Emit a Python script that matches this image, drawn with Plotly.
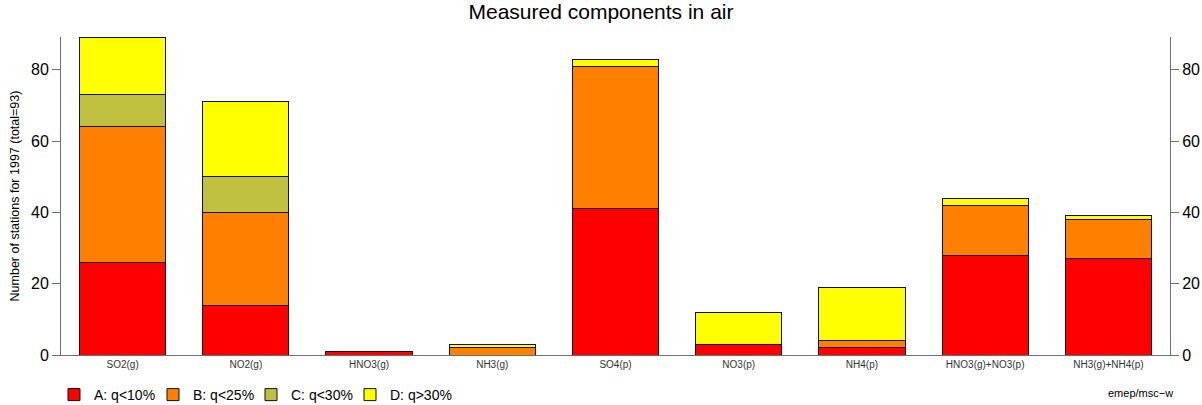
import plotly.graph_objects as go

# Station counts per component, split by quality class
components = ["SO2(g)", "NO2(g)", "HNO3(g)", "NH3(g)", "SO4(p)",
              "NO3(p)", "NH4(p)", "HNO3(g)+NO3(p)", "NH3(g)+NH4(p)"]
class_a = [26, 14, 1, 0, 41, 3, 2, 28, 27]
class_b = [38, 26, 0, 2, 40, 0, 2, 14, 11]
class_c = [9, 10, 0, 0, 0, 0, 0, 0, 0]
class_d = [16, 21, 0, 1, 2, 9, 15, 2, 1]

series = [
    ("A: q<10%", class_a, "#FF0000"),
    ("B: q<25%", class_b, "#FF8000"),
    ("C: q<30%", class_c, "#BFBF40"),
    ("D: q>30%", class_d, "#FFFF00"),
]

y_ticks = [0, 20, 40, 60, 80]
y_range = [0, 89.2]

FONT = "Liberation Sans, Arial, sans-serif"
AXIS_GREY = "#707070"
W, H = 1202, 405

# Left edge (px) of each legend entry along the bottom row
legend_left = [54, 153, 251, 350]

fig = go.Figure()
legend_layouts = {}
for i, (name, vals, color) in enumerate(series):
    key = "legend" if i == 0 else f"legend{i + 1}"
    fig.add_trace(go.Bar(
        x=components, y=vals, name=name, width=0.7, legend=key,
        marker=dict(color=color, line=dict(color="#111111", width=1)),
    ))
    legend_layouts[key] = dict(
        orientation="h",
        x=legend_left[i] / W, xanchor="left", xref="container",
        y=1 - 395 / H, yanchor="middle", yref="container",
        font=dict(size=14, color="black"),
        itemclick=False, bgcolor="rgba(0,0,0,0)",
    )

# Mirror axis on the right-hand side
fig.add_trace(go.Scatter(x=[components[0]], y=[0], yaxis="y2",
                         mode="markers", marker=dict(opacity=0),
                         showlegend=False, hoverinfo="skip"))

fig.update_layout(
    width=W, height=H,
    barmode="stack",
    paper_bgcolor="white", plot_bgcolor="white",
    margin=dict(l=61, r=32, t=37, b=50, autoexpand=False),
    font=dict(family=FONT, color="black"),
    title=dict(text="Measured components in air",
               x=0.5, xref="container", xanchor="center",
               y=1 - 12 / H, yref="container", yanchor="middle",
               font=dict(family=FONT, size=21, color="black")),
    xaxis=dict(
        range=[-0.5, 8.5], showgrid=False, zeroline=False,
        showline=True, linecolor=AXIS_GREY, linewidth=1,
        ticks="", tickfont=dict(size=10, color="#333333"),
    ),
    yaxis=dict(
        range=y_range, tickvals=y_ticks, showgrid=False, zeroline=False,
        showline=True, linecolor=AXIS_GREY, linewidth=1,
        ticks="outside", ticklen=8, tickcolor=AXIS_GREY,
        tickfont=dict(size=16, color="black"),
        title=dict(text="Number of stations for 1997 (total=93)",
                   font=dict(size=12.5, color="black"), standoff=8),
    ),
    yaxis2=dict(
        range=y_range, tickvals=y_ticks, overlaying="y", side="right",
        anchor="x", showgrid=False, zeroline=False,
        showline=True, linecolor=AXIS_GREY, linewidth=1,
        ticks="outside", ticklen=8, tickcolor=AXIS_GREY,
        tickfont=dict(size=16, color="black"),
    ),
    showlegend=True,
    annotations=[dict(
        text="emep/msc\u2212w", xref="paper", yref="paper",
        x=(1175 - 61) / (W - 61 - 32), y=-(393 - 355) / (H - 37 - 50),
        xanchor="right", yanchor="middle",
        showarrow=False, font=dict(size=11, color="black"),
    )],
)
fig.update_layout(**legend_layouts)

fig.write_html("out.html")
